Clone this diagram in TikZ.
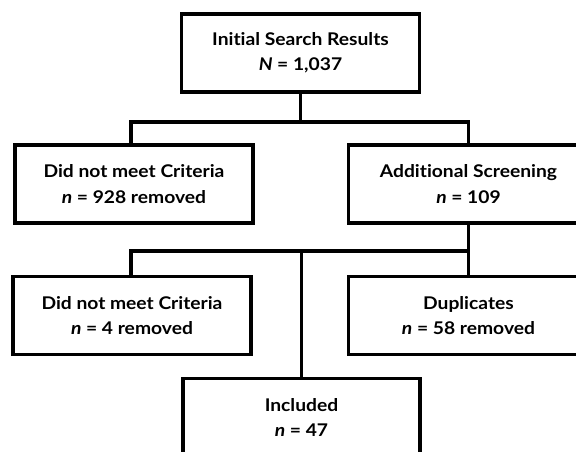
\documentclass[tikz,border=0pt]{standalone}
\usepackage{fontspec}
\setmainfont{Lato}[UprightFont=* Bold, ItalicFont=* Bold Italic, BoldFont=* Black, FakeStretch=1.1, Ligatures=NoCommon]
\begin{document}
\begin{tikzpicture}[x=1pt,y=-1pt,
  box/.style={draw=black, line width=3.5pt, fill=white, inner sep=0pt,
    minimum width=238pt, minimum height=78pt, align=center,
    font=\fontsize{17.5}{25.3}\selectfont},
  conn/.style={draw=black, line width=3.5pt, line cap=rect, line join=miter}]
\useasboundingbox (0,0) rectangle (576,452);
\clip (0,0) rectangle (576,452);
\fill[white] (0,0) rectangle (576,452);
% junction points
\coordinate (j1l) at (131,122);
\coordinate (j1r) at (468.5,122);
\coordinate (j2l) at (131,251);
\coordinate (j2m) at (301.5,251);
\coordinate (j2r) at (468.5,251);
% boxes
\node[box] (top) at (300.5,53) {Initial Search Results\\\textit{N} = 1,037};
\node[box] (l1) at (134,184) {Did not meet Criteria\\\textit{n} = 928 removed};
\node[box, minimum width=240pt] (r1) at (468.5,184) {Additional Screening\\\textit{n} = 109};
\node[box] (l2) at (132,315.5) {Did not meet Criteria\\\textit{n} = 4 removed};
\node[box, minimum width=240pt] (r2) at (468.5,315.5) {Duplicates\\\textit{n} = 58 removed};
\node[box, minimum width=237pt] (inc) at (301.5,417.5) {Included\\\textit{n} = 47};
% connector lines
\draw[conn] (top.south) -- (top.south |- j1l);
\draw[conn] (j1l |- l1.north) -- (j1l) -- (j1r) -- (j1r |- r1.north);
\draw[conn] (r1.south) -- (r2.north);
\draw[conn] (j2l |- l2.north) -- (j2l) -- (j2r);
\draw[conn] (j2m) -- (inc.north);
\end{tikzpicture}
\end{document}
